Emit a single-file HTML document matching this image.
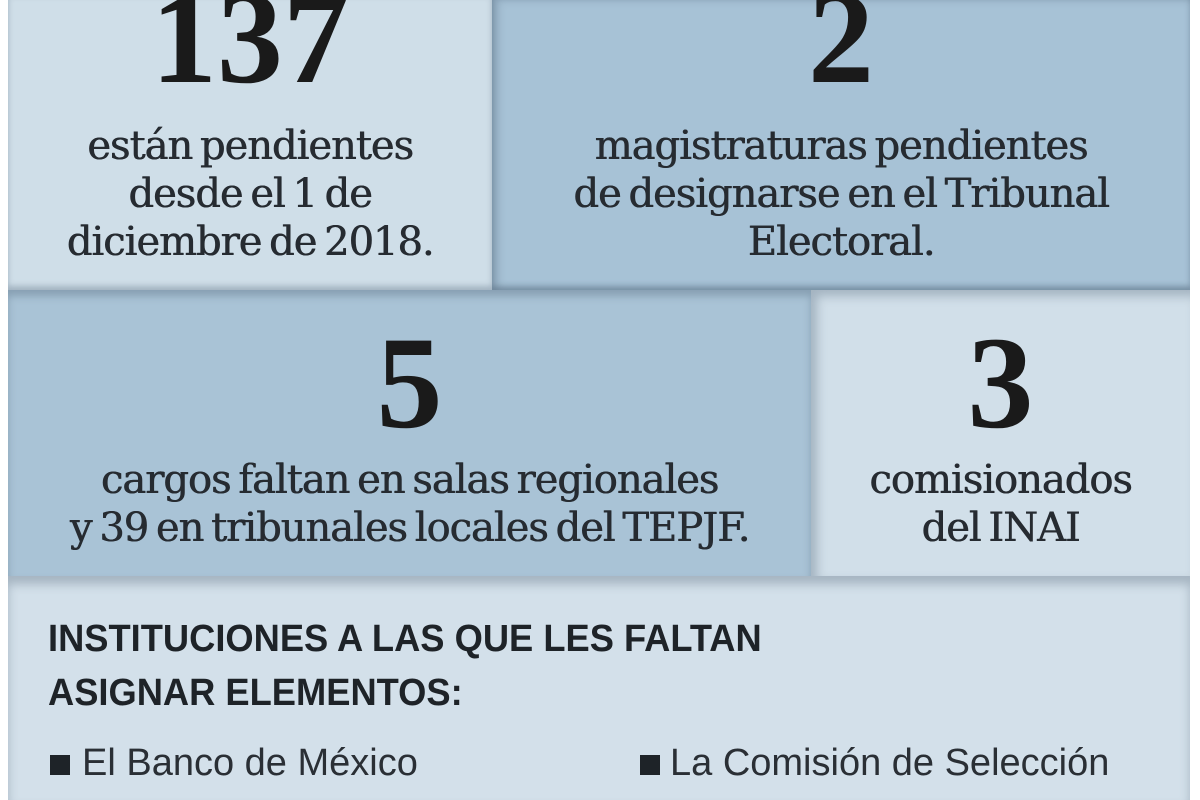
<!DOCTYPE html>
<html><head><meta charset="utf-8"><style>
body{margin:0;width:1200px;height:800px;background:#fff;position:relative;overflow:hidden;font-family:"Liberation Serif",serif;color:#1e2328}
.b{position:absolute;box-sizing:border-box}
.t{position:absolute;left:0;right:0;text-align:center}
.num{font-weight:bold;font-size:132px;line-height:1;color:#1a1a1a}
.cap{font-family:"DejaVu Serif",serif;font-size:40px;line-height:48px;color:#262b31;letter-spacing:-1px;word-spacing:-4px;text-shadow:0.6px 0 0 #262b31}
</style></head><body>
<div class="b" style="left:8px;top:0;width:484px;height:290px;background:#cfdee8;box-shadow:inset 0 -4px 6px rgba(80,100,120,.35)"></div>
<div class="b" style="left:492px;top:0;width:698px;height:290px;background:#a7c2d6;box-shadow:inset 0 -4px 6px rgba(60,80,100,.35),inset 6px 0 8px rgba(60,80,100,.25)"></div>
<div class="b" style="left:8px;top:290px;width:803px;height:286px;background:#a9c3d6;box-shadow:inset 0 6px 8px rgba(60,80,100,.3)"></div>
<div class="b" style="left:811px;top:290px;width:379px;height:286px;background:#d1dfe9;box-shadow:inset 6px 6px 10px rgba(60,80,100,.3)"></div>
<div class="b" style="left:8px;top:576px;width:1182px;height:224px;background:#d3e0ea;box-shadow:inset 0 8px 10px rgba(60,80,100,.3)"></div>

<div class="t num" style="left:8px;width:484px;top:-28px">137</div>
<div class="t cap" style="left:8px;width:484px;top:122px">están pendientes<br>desde el 1 de<br>diciembre de 2018.</div>

<div class="t num" style="left:492px;width:698px;top:-28px">2</div>
<div class="t cap" style="left:492px;width:698px;top:122px">magistraturas pendientes<br>de designarse en el Tribunal<br>Electoral.</div>

<div class="t num" style="left:8px;width:803px;top:317px">5</div>
<div class="t cap" style="left:8px;width:803px;top:456px">cargos faltan en salas regionales<br>y 39 en tribunales locales del TEPJF.</div>

<div class="t num" style="left:811px;width:379px;top:317px">3</div>
<div class="t cap" style="left:811px;width:379px;top:456px">comisionados<br>del INAI</div>

<div class="b" style="left:48px;top:612px;font-family:'Liberation Sans',sans-serif;font-weight:bold;font-size:38px;line-height:54px;color:#1e2328;transform:scaleX(0.955);transform-origin:0 0;white-space:nowrap">INSTITUCIONES A LAS QUE LES FALTAN<br>ASIGNAR ELEMENTOS:</div>
<div class="b" style="left:50px;top:738px;font-family:'Liberation Sans',sans-serif;font-size:38px;line-height:50px;color:#2a2f35;white-space:nowrap"><span style="display:inline-block;width:20px;height:20px;background:#1e2328;margin-right:12px"></span>El Banco de México</div>
<div class="b" style="left:640px;top:738px;font-family:'Liberation Sans',sans-serif;font-size:38px;line-height:50px;color:#2a2f35;white-space:nowrap"><span style="display:inline-block;width:20px;height:20px;background:#1e2328;margin-right:10px"></span>La Comisión de Selección</div>
</body></html>
